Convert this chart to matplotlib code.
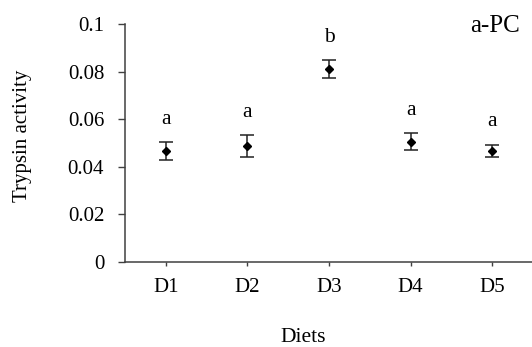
import matplotlib
matplotlib.use("Agg")
import matplotlib.pyplot as plt

diets = ["D1", "D2", "D3", "D4", "D5"]
means = [0.0466, 0.0486, 0.0810, 0.0505, 0.0466]
errors = [0.0039, 0.0045, 0.0039, 0.0035, 0.0027]
letters = ["a", "a", "b", "a", "a"]
yticks = [0, 0.02, 0.04, 0.06, 0.08, 0.1]
ytick_labels = ["0", "0.02", "0.04", "0.06", "0.08", "0.1"]

plt.rcParams['font.family'] = ['Liberation Serif', 'DejaVu Serif']

fig = plt.figure(figsize=(5.32, 3.47), dpi=100)
ax = fig.add_axes([0.235, 0.2458, 0.767, 0.685])

x = list(range(1, len(diets) + 1))
ax.errorbar(x, means, yerr=errors, fmt='D', color='black', ms=4.5,
            ecolor='#222222', elinewidth=1.1, capsize=5, capthick=1.1)

for xi, m, e, l in zip(x, means, errors, letters):
    ax.text(xi, m + e + 0.0055, l, ha='center', va='bottom', fontsize=15.5)

ax.set_xlim(0.5, 5.5)
ax.set_ylim(0, 0.1)
ax.set_xticks(x)
ax.set_xticklabels(diets, fontsize=15)
ax.set_yticks(yticks)
ax.set_yticklabels(ytick_labels, fontsize=15)

for s in ['top', 'right']:
    ax.spines[s].set_visible(False)
for s in ['left', 'bottom']:
    ax.spines[s].set_color('#404040')
    ax.spines[s].set_linewidth(1.1)
ax.tick_params(axis='y', direction='out', length=5, width=1.0, color='#404040', pad=10)
ax.tick_params(axis='x', direction='out', length=3, width=1.0, color='#404040', pad=9)

fig.text(23 / 532, 1 - 136 / 347, "Trypsin activity", rotation=90,
         ha='center', va='center', fontsize=15)
fig.text(303 / 532, 1 - 337 / 347, "Diets", ha='center', va='center', fontsize=15.5)
fig.text(495 / 532, 1 - 26 / 347, "a-PC", ha='center', va='center', fontsize=18)

fig.savefig("out.png", dpi=100)
